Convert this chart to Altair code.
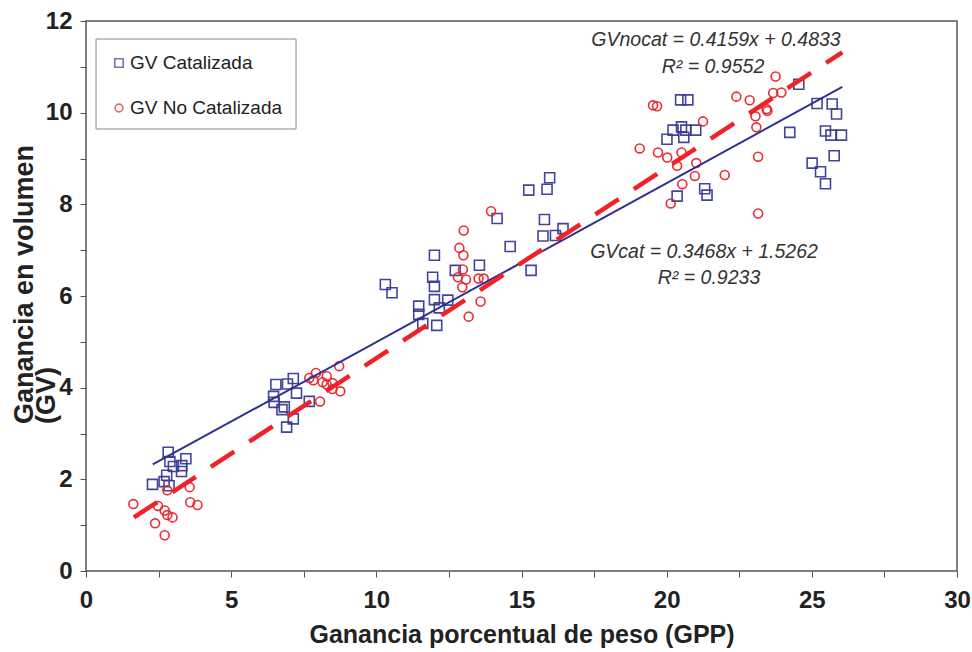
import altair as alt
import pandas as pd

# ---- data ----
cat_x = [2.83, 2.89, 3.01, 3.44, 3.30, 3.29, 2.78, 2.69, 2.86, 2.29,
         6.54, 6.94, 7.14, 7.25, 6.46, 6.48, 6.75, 6.83, 7.14, 6.91, 7.69,
         10.31, 10.54, 11.94, 12.00, 12.00, 12.00, 12.46, 11.46, 12.17, 11.46, 11.60, 12.08,
         12.72, 13.55, 14.16, 14.61, 15.25, 15.33, 15.74, 15.79, 15.88, 15.97, 16.17, 16.43,
         20.48, 20.73, 20.22, 20.51, 20.66, 21.00, 20.01, 20.59, 20.36, 21.31, 21.39,
         24.24, 24.55, 25.18, 25.70, 25.85, 25.47, 25.66, 26.02, 25.77, 25.01, 25.30, 25.47]
cat_y = [2.59, 2.39, 2.28, 2.45, 2.30, 2.17, 2.09, 1.95, 1.86, 1.89,
         4.07, 4.08, 4.20, 3.88, 3.81, 3.68, 3.52, 3.58, 3.32, 3.14, 3.70,
         6.25, 6.07, 6.41, 6.21, 6.89, 5.92, 5.91, 5.78, 5.74, 5.60, 5.40, 5.36,
         6.56, 6.67, 7.69, 7.08, 8.31, 6.56, 7.31, 7.67, 8.33, 8.58, 7.32, 7.47,
         10.28, 10.28, 9.62, 9.69, 9.62, 9.62, 9.42, 9.46, 8.18, 8.34, 8.20,
         9.57, 10.62, 10.20, 10.19, 9.97, 9.60, 9.51, 9.51, 9.06, 8.90, 8.71, 8.45]

nocat_x = [2.80, 3.57, 1.63, 2.48, 2.71, 2.80, 2.98, 3.59, 3.84, 2.38, 2.71,
           8.72, 7.92, 7.69, 7.83, 8.29, 8.15, 8.29, 8.49, 8.49, 8.76, 8.06,
           13.95, 13.01, 12.86, 13.00, 12.98, 12.81, 13.09, 12.96, 13.52, 13.70, 13.59, 13.18,
           23.75, 22.40, 22.86, 23.67, 23.95, 23.44, 23.47, 23.06, 23.09, 23.15, 23.15,
           19.53, 19.67, 21.25, 19.07, 19.70, 20.02, 20.51, 21.02, 20.36, 20.97, 22.00, 20.54, 20.14]
nocat_y = [1.76, 1.83, 1.46, 1.42, 1.32, 1.22, 1.17, 1.50, 1.44, 1.04, 0.78,
           4.47, 4.32, 4.21, 4.16, 4.25, 4.12, 4.07, 4.10, 3.97, 3.92, 3.70,
           7.85, 7.43, 7.05, 6.89, 6.58, 6.41, 6.36, 6.19, 6.38, 6.38, 5.88, 5.55,
           10.79, 10.35, 10.27, 10.43, 10.44, 10.08, 10.04, 9.92, 9.68, 9.04, 7.80,
           10.16, 10.14, 9.81, 9.22, 9.13, 9.02, 9.13, 8.90, 8.84, 8.62, 8.64, 8.44, 8.02]

series_names = ["GV Catalizada", "GV No Catalizada"]

# regression lines as printed on the chart (slope, intercept) and their x extent
cat_fit = (0.3468, 1.5262)
nocat_fit = (0.4159, 0.4833)
cat_line_x = [2.3, 26.05]
nocat_line_x = [1.65, 26.05]

eq_texts = ["GVnocat = 0.4159x + 0.4833", "R² = 0.9552",
            "GVcat = 0.3468x + 1.5262", "R² = 0.9233"]

x_ticks = [0, 2.5, 5, 7.5, 10, 12.5, 15, 17.5, 20, 22.5, 25, 27.5, 30]
y_ticks = list(range(0, 13))

# ---- styling ----
BLUE_PT = "#3a3a98"
BLUE_LN = "#2e3192"
RED_PT = "#e8222a"
RED_LN = "#ee2228"
FONT = "Liberation Sans"
GRAY = "#555555"
TXT = "#222222"

cat_df = pd.DataFrame({"x": cat_x, "y": cat_y})
nocat_df = pd.DataFrame({"x": nocat_x, "y": nocat_y})
cat_line = pd.DataFrame({"x": cat_line_x,
                         "y": [cat_fit[0] * v + cat_fit[1] for v in cat_line_x]})
nocat_line = pd.DataFrame({"x": nocat_line_x,
                           "y": [nocat_fit[0] * v + nocat_fit[1] for v in nocat_line_x]})

xs = alt.Scale(domain=[0, 30], nice=False, zero=False)
ys = alt.Scale(domain=[0, 12], nice=False, zero=False)

x_axis = alt.Axis(values=x_ticks, grid=False, domain=False,
                  labelExpr="datum.value % 5 == 0 ? datum.label : ''",
                  labelOverlap=False, labelFlush=False,
                  tickColor=GRAY, tickSize=6, tickWidth=1,
                  labelFont=FONT, labelFontSize=24, labelFontWeight="bold",
                  labelColor=TXT, labelPadding=11,
                  title="Ganancia porcentual de peso (GPP)",
                  titleFont=FONT, titleFontSize=25, titleFontWeight="bold",
                  titleColor=TXT, titleBaseline="alphabetic", titleY=71)
y_axis = alt.Axis(values=y_ticks, grid=False, domain=False,
                  labelExpr="datum.value % 2 == 0 ? datum.label : ''",
                  labelOverlap=False, labelFlush=False,
                  tickColor=GRAY, tickSize=6, tickWidth=1,
                  labelFont=FONT, labelFontSize=24, labelFontWeight="bold",
                  labelColor=TXT, labelPadding=8, title=None)

X = alt.X("x:Q", scale=xs, axis=x_axis)
Y = alt.Y("y:Q", scale=ys, axis=y_axis)

cat_pts = alt.Chart(cat_df).mark_point(shape="square", filled=False, size=100,
                                       strokeWidth=1.6, color=BLUE_PT, opacity=0.95).encode(x=X, y=Y)
nocat_pts = alt.Chart(nocat_df).mark_point(shape="circle", filled=False, size=80,
                                           strokeWidth=1.6, color=RED_PT, opacity=0.95).encode(x=X, y=Y)
cat_ln = alt.Chart(cat_line).mark_line(color=BLUE_LN, strokeWidth=2).encode(x=X, y=Y)
nocat_ln = alt.Chart(nocat_line).mark_line(color=RED_LN, strokeWidth=4.5,
                                           strokeDash=[28, 18]).encode(x=X, y=Y)


def text_layer(txt, x, y, size, **kw):
    return alt.Chart(pd.DataFrame({"t": [txt]})).mark_text(
        font=FONT, fontSize=size, **kw).encode(
        text="t:N", x=alt.value(x), y=alt.value(y))


eq_style = dict(fontStyle="italic", color="#333333", align="center", baseline="middle")
eqs = [
    text_layer(eq_texts[0], 630, 19, 19.5, **eq_style),
    text_layer(eq_texts[1], 627, 46, 19.5, **eq_style),
    text_layer(eq_texts[2], 618, 231, 19.5, **eq_style),
    text_layer(eq_texts[3], 623, 257, 19.5, **eq_style),
]

# y-axis title (two lines)
ytitle = [
    text_layer("Ganancia en volumen", -61, 403, 27, fontWeight="bold", angle=270,
               align="left", baseline="middle", color=TXT),
    text_layer("(GV)", -39, 403, 27, fontWeight="bold", angle=270,
               align="left", baseline="middle", color=TXT),
]

# legend box
leg_box = alt.Chart(pd.DataFrame({"a": [0]})).mark_rect(
    fill="white", stroke="#888888", strokeWidth=1).encode(
    x=alt.value(10), x2=alt.value(210), y=alt.value(18), y2=alt.value(108))
leg_sq = alt.Chart(pd.DataFrame({"a": [0]})).mark_point(
    shape="square", filled=False, size=70, strokeWidth=1.6, color=BLUE_PT).encode(
    x=alt.value(33), y=alt.value(42))
leg_ci = alt.Chart(pd.DataFrame({"a": [0]})).mark_point(
    shape="circle", filled=False, size=60, strokeWidth=1.6, color=RED_PT).encode(
    x=alt.value(33), y=alt.value(87))
leg_txt = [
    text_layer(series_names[0], 44, 42, 19, align="left", baseline="middle", color=TXT),
    text_layer(series_names[1], 44, 87, 19, align="left", baseline="middle", color=TXT),
]

chart = alt.layer(
    cat_pts, nocat_pts, cat_ln, nocat_ln, *eqs, *ytitle, leg_box, leg_sq, leg_ci, *leg_txt
).properties(
    width=871, height=550,
    autosize=alt.AutoSizeParams(type="none"),
    padding={"left": 86, "top": 21, "right": 15, "bottom": 81},
    background="white",
).configure_view(stroke=GRAY, strokeWidth=1.5)

chart.save("out.html", embed_options={"renderer": "svg", "actions": False})
